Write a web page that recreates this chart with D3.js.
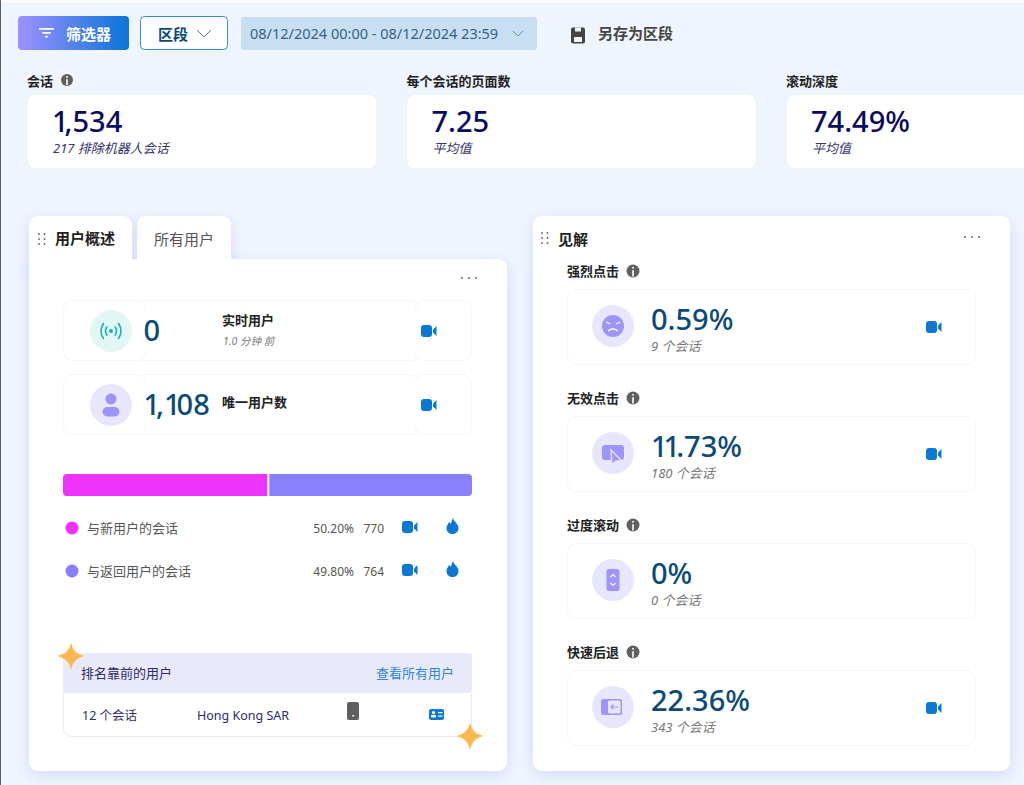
<!DOCTYPE html>
<html>
<head>
<meta charset="utf-8">
<script src="https://cdn.jsdelivr.net/npm/d3@7"></script>
<style>
html, body { margin: 0; padding: 0; background: #eef5fd; overflow: hidden; }
svg { display: block; }
text { font-family: "Noto Sans", "Noto Sans CJK SC", sans-serif; }
</style>
</head>
<body>
<div id="chart"></div>
<script>
// values
const metricLabels = ["会话", "每个会话的页面数", "滚动深度"];
const metricValues = ["1,534", "7.25", "74.49%"];
const metricNotes = ["217 排除机器人会话", "平均值", "平均值"];

const userTypes = ["与新用户的会话", "与返回用户的会话"];
const userSessions = [770, 764];
const userShares = ["50.20%", "49.80%"];

const liveValues = ["0", "1,108"];
const liveLabels = ["实时用户", "唯一用户数"];

const insightLabels = ["强烈点击", "无效点击", "过度滚动", "快速后退"];
const insightValues = ["0.59%", "11.73%", "0%", "22.36%"];
const insightSessions = [9, 180, 0, 343];

const width = 1024, height = 785;
const blue = "#0c78d4", navy = "#0a0a5c", teal = "#0b4a78", lilac = "#9d95fb", disc = "#e7e6fd";
const hairline = "#f4f6f9";

const svg = d3.select("#chart").append("svg").attr("width", width).attr("height", height);
const defs = svg.append("defs");

const filterGrad = defs.append("linearGradient").attr("id", "filterGrad");
filterGrad.append("stop").attr("offset", "0%").attr("stop-color", "#9f90ff");
filterGrad.append("stop").attr("offset", "100%").attr("stop-color", "#0a76d6");

const shadow = defs.append("filter").attr("id", "panelShadow")
    .attr("x", "-10%").attr("y", "-10%").attr("width", "120%").attr("height", "120%");
shadow.append("feDropShadow").attr("dx", 0).attr("dy", 4).attr("stdDeviation", 7)
    .attr("flood-color", "#b9c4f5").attr("flood-opacity", 0.55);

defs.append("clipPath").attr("id", "barClip").append("rect")
    .attr("x", 63).attr("y", 474).attr("width", 409).attr("height", 22).attr("rx", 4);

function box(x, y, w, h, r, fill, stroke) {
    return svg.append("rect").attr("x", x).attr("y", y).attr("width", w).attr("height", h)
        .attr("rx", r).attr("fill", fill).attr("stroke", stroke || "none");
}

function label(x, y, str, size, color, opts) {
    opts = opts || {};
    return svg.append("text").attr("x", x).attr("y", y).text(str)
        .attr("font-size", size).attr("fill", color)
        .attr("font-weight", opts.weight || 400)
        .attr("font-style", opts.italic ? "italic" : "normal")
        .attr("text-anchor", opts.anchor || "start");
}

// big numbers: the original face has a narrow "1", so pull in what follows it
function bigValue(x, y, str, color) {
    const dx = Array.from(str).map((c, i) => (i > 0 && str[i - 1] === "1") ? -4 : 0).join(" ");
    return label(x, y, str, 29, color, {weight: 500}).attr("dx", dx);
}

function infoIcon(cx, cy, r) {
    svg.append("circle").attr("cx", cx).attr("cy", cy).attr("r", r).attr("fill", "#5f5f5f");
    svg.append("rect").attr("x", cx - 0.8).attr("y", cy - 0.8).attr("width", 1.6).attr("height", r * 0.85 + 0.8).attr("fill", "#fff");
    svg.append("circle").attr("cx", cx).attr("cy", cy - r * 0.5).attr("r", 0.95).attr("fill", "#fff");
}

function videoIcon(x, cy) {
    box(x, cy - 6, 11, 12, 3, blue);
    svg.append("path").attr("d", `M${x + 12},${cy - 1.5} L${x + 15.5},${cy - 5} V${cy + 5} L${x + 12},${cy + 1.5} Z`).attr("fill", blue);
}

function flameIcon(cx, cy) {
    svg.append("path").attr("fill", blue)
        .attr("d", `M${cx + 0.5},${cy - 8} C${cx + 1},${cy - 4} ${cx + 6},${cy - 3} ${cx + 6},${cy + 2}
            C${cx + 6},${cy + 6} ${cx + 3},${cy + 8} ${cx},${cy + 8} C${cx - 3},${cy + 8} ${cx - 6},${cy + 6} ${cx - 6},${cy + 2}
            C${cx - 6},${cy - 1} ${cx - 4},${cy - 2} ${cx - 3.5},${cy - 4} C${cx - 2.5},${cy - 3} ${cx - 2},${cy - 2.5} ${cx - 1.5},${cy - 2.5}
            C${cx - 1},${cy - 4.5} ${cx - 0.5},${cy - 6} ${cx + 0.5},${cy - 8} Z`);
}

function gripIcon(x, y) {
    for (let i = 0; i < 2; i++) for (let j = 0; j < 3; j++) {
        svg.append("circle").attr("cx", x + i * 5.5).attr("cy", y + j * 5).attr("r", 0.95).attr("fill", "#666");
    }
}

function moreIcon(x, y) {
    for (let i = 0; i < 3; i++) {
        svg.append("circle").attr("cx", x + i * 7).attr("cy", y).attr("r", 1).attr("fill", "#666");
    }
}

function star(cx, cy, r) {
    const k = r * 0.16;
    svg.append("path").attr("fill", "#fdb950")
        .attr("d", `M${cx},${cy - r} Q${cx + k},${cy - k} ${cx + r},${cy} Q${cx + k},${cy + k} ${cx},${cy + r} Q${cx - k},${cy + k} ${cx - r},${cy} Q${cx - k},${cy - k} ${cx},${cy - r} Z`);
}

// page background
box(0, 0, width, height, 0, "#eef5fd");
box(0, 0, width, 3, 0, "#fbfcfe");
box(0, 0, 1, height, 0, "#5a6068");

// toolbar
box(18, 16, 111, 34, 4, "url(#filterGrad)");
[[39, 15], [42, 9], [45, 3]].forEach(d => box(d[0], 28 + (d[0] - 39) * 1.3, d[1], 1.8, 0.9, "#fff"));
label(66, 40, "筛选器", 15, "#fff", {weight: 700});

box(140.5, 16.5, 87, 33, 4, "#fff", "#3a8cc4");
label(158, 40, "区段", 15, teal, {weight: 700});
svg.append("path").attr("d", "M197,30 L204,37 L211,30").attr("fill", "none").attr("stroke", "#3f6d93").attr("stroke-width", 0.9);

box(241, 17, 296, 33, 3, "#c8dff3");
label(250, 39, "08/12/2024 00:00 - 08/12/2024 23:59", 14.5, "#34618a");
svg.append("path").attr("d", "M513,31 L518,36 L523,31").attr("fill", "none").attr("stroke", "#5b8fbb").attr("stroke-width", 1);

box(571, 27.5, 14, 16, 2, "#444");
box(575, 27.5, 6, 4, 0.5, "#eef5fd");
box(574, 37, 8, 5, 0.5, "#eef5fd");
label(598, 39, "另存为区段", 15, "#444", {weight: 700});

// top metric cards
const metricX = d3.scaleBand().domain(metricLabels).range([27, 1136]).paddingInner(0.0777).paddingOuter(0);
metricLabels.forEach((m, i) => {
    const x = metricX(m);
    label(x, 86, m, 13, "#222", {weight: 700});
    box(x, 94, metricX.bandwidth(), 75, 9, "#fff", "#e9f0f8");
    bigValue(x + 25, 132, metricValues[i], navy);
    label(x + 26, 153, metricNotes[i], 13, "#35356f", {italic: true});
});
infoIcon(67, 80, 6);

// left panel
box(137, 216, 94, 60, 9, "#fff").attr("filter", "url(#panelShadow)");
box(29, 216, 103, 60, 9, "#fff").attr("filter", "url(#panelShadow)");
box(29, 259, 478, 512, 9, "#fff").attr("filter", "url(#panelShadow)");
box(29, 240, 103, 30, 0, "#fff");
box(137, 240, 94, 19, 0, "#fff");
gripIcon(39, 234);
label(55, 244, "用户概述", 15, "#222", {weight: 700});
label(154, 245, "所有用户", 15, "#555");
moreIcon(462, 278);

const liveY = d3.scalePoint().domain(liveLabels).range([300, 374]);
liveLabels.forEach((l, i) => {
    const y = liveY(l);
    box(135.5, y + 0.5, 285, 60, 9, "#fff", hairline);
    box(63.5, y + 0.5, 82, 60, 9, "#fff", hairline);
    box(415.5, y + 0.5, 56, 60, 9, "#fff", hairline);
    // the inner dividers only show at their rounded ends
    box(144, y + 11, 3, 39, 0, "#fff");
    box(414, y + 11, 3, 39, 0, "#fff");
    svg.append("circle").attr("cx", 111).attr("cy", y + 31).attr("r", 21).attr("fill", i === 0 ? "#e2f6f4" : disc);
    bigValue(143.5, y + 41, liveValues[i], teal);
    label(222, y + (i === 0 ? 25 : 33), l, 13, "#222", {weight: 700});
    videoIcon(421, y + 31);
});
label(223, 345, "1.0 分钟 前", 10.5, "#777", {italic: true});

// live signal icon
svg.append("circle").attr("cx", 111).attr("cy", 331).attr("r", 2).attr("fill", "#16b3ac");
[5.5, 10].forEach(r => {
    [-1, 1].forEach(s => {
        const x0 = 111 + s * r * 0.75, x1 = 111 + s * r;
        svg.append("path").attr("fill", "none").attr("stroke", "#16b3ac").attr("stroke-width", 1.6).attr("stroke-linecap", "round")
            .attr("d", `M${x0},${331 - r * 0.75} Q${x1 + s * r * 0.25},331 ${x0},${331 + r * 0.75}`);
    });
});
// user icon
svg.append("circle").attr("cx", 111).attr("cy", 399).attr("r", 5.5).attr("fill", lilac);
box(102.5, 407, 17, 9.5, 4.7, lilac);

// split bar, from the session counts
const barX = d3.scaleLinear().domain([0, d3.sum(userSessions)]).range([63, 472]);
const barColors = d3.scaleOrdinal().domain(userTypes).range(["#ee33ff", "#8880ff"]);
const stacked = d3.cumsum([0].concat(userSessions));
svg.append("g").attr("clip-path", "url(#barClip)")
    .selectAll("rect").data(userTypes).join("rect")
    .attr("x", (d, i) => barX(stacked[i]))
    .attr("y", 474)
    .attr("width", (d, i) => barX(stacked[i + 1]) - barX(stacked[i]))
    .attr("height", 22)
    .attr("fill", d => barColors(d));
box(barX(stacked[1]) - 1, 474, 2, 22, 0, "#fff");

const legendY = d3.scalePoint().domain(userTypes).range([528, 571]);
userTypes.forEach((t, i) => {
    const y = legendY(t);
    svg.append("circle").attr("cx", 72).attr("cy", y).attr("r", 6.5).attr("fill", barColors(t));
    label(87, y + 5, t, 13, "#555");
    label(354, y + 5, userShares[i], 12, "#555", {anchor: "end"});
    label(384, y + 5, userSessions[i], 12, "#555", {anchor: "end"});
    videoIcon(402, y - 1);
    flameIcon(452.5, y - 2);
});

// top users table
box(63, 653, 409, 40, 3, "#e9e9fc");
svg.append("path").attr("fill", "none").attr("stroke", "#e8e8fb")
    .attr("d", "M63.5,693 V727 Q63.5,736.5 73,736.5 H462 Q471.5,736.5 471.5,727 V693");
label(81, 678, "排名靠前的用户", 13, "#2c2c6c");
label(454, 678, "查看所有用户", 13, "#2f86d6", {anchor: "end"});
label(82, 720, "12 个会话", 12.5, "#2c2c6c");
label(197, 720, "Hong Kong SAR", 12.5, "#2c2c6c");
box(347, 702, 12, 18, 2, "#5f5f5f");
box(352, 715, 2.5, 1.5, 0.5, "#ddd");
box(429, 709, 15, 11, 2, blue);
svg.append("circle").attr("cx", 433.5).attr("cy", 712.6).attr("r", 1.6).attr("fill", "#fff");
box(431, 715, 5, 2.6, 1, "#fff");
box(438, 712, 4.5, 1.2, 0, "#fff");
box(438, 715.5, 4.5, 1.2, 0, "#fff");
star(71, 656, 13.5);
star(470, 736, 13.5);

// right panel
box(533, 216, 477, 555, 9, "#fff").attr("filter", "url(#panelShadow)");
gripIcon(542, 233);
label(558, 245, "见解", 15, "#222", {weight: 700});
moreIcon(965, 237);

const insightY = d3.scalePoint().domain(insightLabels).range([271, 652]);
insightLabels.forEach((l, i) => {
    const y = insightY(l);
    label(567, y + 5, l, 13, "#222", {weight: 700});
    infoIcon(633, y, 6.5);
    box(567.5, y + 18.5, 408, 75, 9, "#fff", hairline);
    svg.append("circle").attr("cx", 613).attr("cy", y + 55).attr("r", 21).attr("fill", disc);
    bigValue(651, y + 59, insightValues[i], teal);
    label(651, y + 80, insightSessions[i] + " 个会话", 13, "#777", {italic: true});
    if (insightSessions[i] > 0) videoIcon(926, y + 56);
});

// insight icons
// angry face
let cy = insightY(insightLabels[0]) + 55;
svg.append("circle").attr("cx", 613).attr("cy", cy).attr("r", 11).attr("fill", lilac);
svg.append("path").attr("fill", "none").attr("stroke", "#fff").attr("stroke-width", 1.3)
    .attr("d", `M606,${cy - 4} L610,${cy - 2} M620,${cy - 4} L616,${cy - 2} M608,${cy + 5} Q613,${cy + 1} 618,${cy + 5}`);
// rage click screen with pointer
cy = insightY(insightLabels[1]) + 55;
box(602, cy - 8, 22, 15, 3, lilac);
svg.append("path").attr("fill", lilac).attr("stroke", disc).attr("stroke-width", 1.4)
    .attr("d", `M611,${cy - 3} L622,${cy + 8} L616,${cy + 8} L612,${cy + 12} Z`);
// excessive scroll
cy = insightY(insightLabels[2]) + 55;
box(606.5, cy - 11, 13, 22, 2.5, lilac);
svg.append("path").attr("fill", "none").attr("stroke", "#fff").attr("stroke-width", 1.1)
    .attr("d", `M610.5,${cy - 3} L613,${cy - 5.5} L615.5,${cy - 3} M610.5,${cy + 3} L613,${cy + 5.5} L615.5,${cy + 3}`);
// quick back
cy = insightY(insightLabels[3]) + 55;
box(601, cy - 8, 21, 16, 2.5, lilac);
box(608, cy - 6.5, 12.5, 13, 1.5, disc);
svg.append("path").attr("fill", "none").attr("stroke", lilac).attr("stroke-width", 1.2)
    .attr("d", `M618,${cy} H611 M613.5,${cy - 2.5} L611,${cy} L613.5,${cy + 2.5}`);
</script>
</body>
</html>
